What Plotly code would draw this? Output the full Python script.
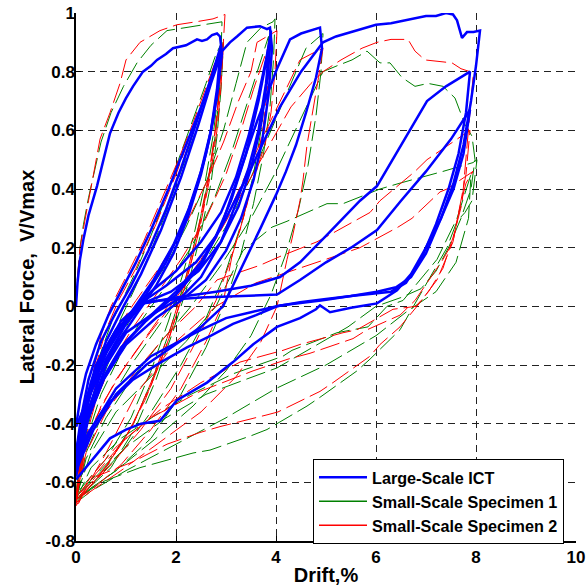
import plotly.graph_objects as go

# ---------------- Large-Scale ICT (drift %, V/Vmax) ----------------
ict_first = [(0, 0), (0.03, 0.08), (0.08, 0.16), (0.15, 0.23), (0.25, 0.31), (0.42, 0.41),
             (0.55, 0.5), (0.68, 0.59), (0.85, 0.66), (1.0, 0.71), (1.14, 0.75), (1.34, 0.80),
             (1.5, 0.82), (1.62, 0.84), (1.8, 0.86), (1.94, 0.88), (2.2, 0.89), (2.42, 0.91),
             (2.52, 0.905), (2.62, 0.91), (2.72, 0.925), (2.82, 0.93), (2.88, 0.92), (2.92, 0.86),
             (2.82, 0.72), (2.68, 0.58), (2.5, 0.45), (2.25, 0.31), (1.95, 0.18), (1.6, 0.07),
             (1.2, -0.03), (0.8, -0.13), (0.45, -0.24), (0.2, -0.33), (0.05, -0.39), (0, -0.41)]
ict_cyc3a = [(0, -0.41), (0.08, -0.32), (0.2, -0.23), (0.4, -0.13), (0.65, -0.03), (0.9, 0.05),
             (1.2, 0.15), (1.5, 0.26), (1.85, 0.4), (2.2, 0.55), (2.5, 0.68), (2.75, 0.8), (2.9, 0.88),
             (2.85, 0.76), (2.75, 0.64), (2.6, 0.52), (2.4, 0.4), (2.15, 0.28), (1.8, 0.15),
             (1.4, 0.04), (1.0, -0.05), (0.6, -0.16), (0.3, -0.29), (0.1, -0.42), (0, -0.5)]
ict_cyc3b = [(0, -0.5), (0.1, -0.38), (0.25, -0.25), (0.5, -0.12), (0.8, -0.02), (1.1, 0.07),
             (1.45, 0.19), (1.8, 0.33), (2.1, 0.47), (2.4, 0.62), (2.65, 0.75), (2.9, 0.89),
             (2.82, 0.74), (2.7, 0.6), (2.5, 0.46), (2.25, 0.33), (1.95, 0.21), (1.55, 0.09),
             (1.1, -0.02), (0.7, -0.12), (0.35, -0.26), (0.12, -0.4), (0, -0.55)]
ict_cyc4a = [(0, -0.55), (0.12, -0.4), (0.3, -0.26), (0.6, -0.12), (0.95, 0.0), (1.3, 0.11),
             (1.7, 0.26), (2.1, 0.44), (2.45, 0.62), (2.7, 0.76), (2.92, 0.87), (3.08, 0.9),
             (3.22, 0.92), (3.42, 0.95), (3.68, 0.955), (3.82, 0.945), (3.88, 0.95), (3.92, 0.88),
             (3.85, 0.72), (3.72, 0.56), (3.55, 0.43), (3.3, 0.3), (3.0, 0.19), (2.6, 0.09),
             (2.1, 0.02), (1.6, -0.04), (1.0, -0.13), (0.55, -0.25), (0.2, -0.4), (0, -0.56)]
ict_cyc4b = [(0, -0.56), (0.1, -0.42), (0.3, -0.28), (0.6, -0.15), (1.0, -0.04), (1.5, 0.05),
             (2.0, 0.12), (2.5, 0.22), (2.9, 0.32), (3.2, 0.44), (3.45, 0.58), (3.65, 0.72),
             (3.8, 0.84), (3.9, 0.93), (3.83, 0.78), (3.7, 0.62), (3.5, 0.47), (3.25, 0.34),
             (2.9, 0.22), (2.45, 0.12), (1.9, 0.05), (1.34, 0.01), (1.0, -0.06), (0.6, -0.18),
             (0.25, -0.35), (0, -0.5)]
ict_cyc4c = [(0, -0.5), (0.15, -0.36), (0.4, -0.22), (0.75, -0.1), (1.2, 0.0), (1.8, 0.07),
             (2.4, 0.15), (2.8, 0.24), (3.1, 0.36), (3.4, 0.52), (3.65, 0.7), (3.82, 0.85),
             (3.9, 0.94), (3.8, 0.76), (3.65, 0.6), (3.45, 0.47), (3.2, 0.35), (2.9, 0.22),
             (2.5, 0.1), (2.1, 0.03), (1.5, -0.03), (1.0, -0.09), (0.6, -0.2), (0.25, -0.38),
             (0, -0.58)]
ict_cyc5 = [(0, -0.58), (0.15, -0.42), (0.45, -0.27), (0.9, -0.14), (1.4, -0.05), (2.0, 0.04),
            (2.5, 0.14), (2.9, 0.27), (3.28, 0.46), (3.62, 0.63), (4.02, 0.81), (4.28, 0.91),
            (4.5, 0.93), (4.68, 0.94), (4.88, 0.95), (4.92, 0.88), (4.8, 0.78), (4.6, 0.66),
            (4.4, 0.55), (4.2, 0.46), (4.0, 0.38), (3.7, 0.27), (3.3, 0.13), (2.94, 0.0),
            (2.5, -0.07), (2.0, -0.13), (1.4, -0.2), (0.8, -0.3), (0.35, -0.42), (0, -0.56)]
ict_cyc8a = [(0, -0.56), (0.2, -0.4), (0.55, -0.25), (1.0, -0.12), (1.5, -0.03), (2.0, 0.05),
             (2.5, 0.15), (3.0, 0.3), (3.5, 0.47), (4.08, 0.68), (4.5, 0.8), (4.94, 0.9),
             (5.2, 0.92), (5.4, 0.93), (5.7, 0.945), (6.0, 0.96), (6.3, 0.965), (6.6, 0.975),
             (7.0, 0.99), (7.2, 0.99), (7.4, 1.0), (7.54, 0.995), (7.62, 0.975), (7.72, 0.915),
             (7.82, 0.935), (7.95, 0.935), (8.08, 0.94), (8.0, 0.82), (7.9, 0.7), (7.75, 0.55),
             (7.55, 0.42), (7.3, 0.3), (7.0, 0.18), (6.7, 0.1), (6.4, 0.065), (6.02, 0.05),
             (5.5, 0.035), (5.0, 0.025), (4.48, 0.014), (4.02, 0.0), (3.6, -0.03), (3.14, -0.06),
             (2.7, -0.1), (2.22, -0.14), (1.7, -0.19), (1.14, -0.25), (0.6, -0.34), (0.25, -0.43),
             (0, -0.52)]
ict_cyc8b = [(0, -0.52), (0.15, -0.35), (0.4, -0.2), (0.8, -0.08), (1.34, 0.01), (2.0, 0.03),
             (2.8, 0.05), (3.5, 0.07), (4.08, 0.1), (4.48, 0.15), (5.0, 0.24), (5.68, 0.36),
             (6.02, 0.41), (6.5, 0.55), (7.02, 0.7), (7.4, 0.75), (7.88, 0.8), (7.8, 0.66),
             (7.65, 0.52), (7.45, 0.4), (7.2, 0.28), (6.9, 0.16), (6.6, 0.08), (6.3, 0.05),
             (6.02, 0.045), (5.5, 0.035), (4.9, 0.02), (4.08, 0.003), (3.5, -0.02), (3.0, -0.04),
             (2.5, -0.08), (1.5, -0.17), (0.8, -0.28), (0.3, -0.42), (0, -0.55)]
ict_cyc8c = [(0, -0.55), (0.2, -0.35), (0.5, -0.17), (0.9, -0.05), (1.3, 0.01), (1.68, 0.02),
             (2.5, 0.03), (3.3, 0.035), (4.02, 0.04), (4.48, 0.09), (5.0, 0.15), (5.5, 0.2),
             (6.02, 0.26), (6.5, 0.36), (7.0, 0.46), (7.5, 0.57), (7.88, 0.67), (7.75, 0.52),
             (7.55, 0.4), (7.3, 0.3), (7.0, 0.2), (6.7, 0.11), (6.42, 0.055), (6.2, 0.03),
             (6.02, 0.01), (5.5, -0.005), (5.08, -0.02), (4.95, -0.005), (4.88, 0.003),
             (4.8, -0.01), (4.48, -0.04), (4.02, -0.07), (3.54, -0.13), (3.14, -0.19),
             (2.62, -0.26), (2.02, -0.32), (1.68, -0.39), (1.3, -0.4), (1.0, -0.42),
             (0.68, -0.45), (0.3, -0.53), (0, -0.59)]

# ---------------- Small-Scale Specimen 1 ----------------
sp1_first = [(0, 0), (0.03, 0.1), (0.08, 0.2), (0.15, 0.28), (0.25, 0.37), (0.35, 0.45),
             (0.5, 0.56), (0.7, 0.66), (0.95, 0.75), (1.22, 0.83), (1.5, 0.89), (1.82, 0.94),
             (2.2, 0.95), (2.6, 0.96), (2.92, 0.97), (2.9, 0.86), (2.84, 0.72), (2.74, 0.58),
             (2.58, 0.42), (2.38, 0.26), (2.12, 0.1), (1.85, -0.05), (1.5, -0.22), (1.1, -0.38),
             (0.6, -0.52), (0.2, -0.6), (0, -0.64)]
sp1_cyc3a = [(0, -0.64), (0.1, -0.48), (0.25, -0.32), (0.45, -0.18), (0.7, -0.06), (0.95, 0.03),
             (1.2, 0.12), (1.45, 0.22), (1.75, 0.35), (2.05, 0.5), (2.35, 0.64), (2.6, 0.76),
             (2.8, 0.86), (2.92, 0.9), (2.88, 0.76), (2.8, 0.6), (2.66, 0.44), (2.45, 0.27),
             (2.2, 0.1), (1.9, -0.07), (1.55, -0.24), (1.15, -0.4), (0.65, -0.53), (0.2, -0.61),
             (0, -0.65)]
sp1_cyc3b = [(0, -0.65), (0.15, -0.45), (0.35, -0.3), (0.6, -0.16), (0.9, -0.04), (1.2, 0.07),
             (1.5, 0.19), (1.8, 0.32), (2.1, 0.46), (2.4, 0.6), (2.65, 0.73), (2.85, 0.84),
             (2.95, 0.9), (2.9, 0.74), (2.82, 0.58), (2.7, 0.42), (2.5, 0.25), (2.25, 0.08),
             (1.95, -0.08), (1.6, -0.25), (1.2, -0.41), (0.7, -0.55), (0.25, -0.62), (0, -0.66)]
sp1_cyc4a = [(0, -0.66), (0.15, -0.47), (0.4, -0.3), (0.7, -0.17), (1.0, -0.07), (1.4, 0.04),
             (1.8, 0.14), (2.2, 0.27), (2.6, 0.42), (2.95, 0.6), (3.2, 0.76), (3.42, 0.9),
             (3.7, 0.95), (3.94, 0.97), (3.98, 0.98), (3.95, 0.84), (3.88, 0.68), (3.75, 0.52),
             (3.55, 0.35), (3.3, 0.18), (3.0, 0.02), (2.6, -0.14), (2.1, -0.3), (1.5, -0.45),
             (0.8, -0.56), (0.3, -0.62), (0, -0.66)]
sp1_cyc4b = [(0, -0.66), (0.2, -0.46), (0.5, -0.3), (0.9, -0.16), (1.3, -0.05), (1.8, 0.07),
             (2.3, 0.2), (2.75, 0.36), (3.1, 0.52), (3.4, 0.68), (3.65, 0.82), (3.85, 0.92),
             (3.82, 0.78), (3.72, 0.62), (3.55, 0.45), (3.34, 0.3), (3.0, 0.12), (2.6, -0.04),
             (2.1, -0.2), (1.5, -0.36), (0.9, -0.5), (0.35, -0.6), (0, -0.67)]
sp1_cyc5 = [(0, -0.67), (0.2, -0.5), (0.6, -0.34), (1.1, -0.2), (1.6, -0.08), (2.1, 0.04),
            (2.6, 0.16), (3.1, 0.3), (3.5, 0.44), (3.9, 0.6), (4.28, 0.75), (4.6, 0.88),
            (4.94, 0.93), (4.9, 0.8), (4.8, 0.65), (4.64, 0.48), (4.45, 0.33), (4.2, 0.18),
            (3.9, 0.04), (3.5, -0.1), (3.0, -0.22), (2.34, -0.34), (1.6, -0.45), (0.8, -0.56),
            (0.3, -0.62), (0, -0.66)]
sp1_cyc8a = [(0, -0.66), (0.2, -0.52), (0.6, -0.38), (1.1, -0.25), (1.7, -0.12), (2.3, 0.0),
             (2.9, 0.14), (3.5, 0.3), (4.0, 0.46), (4.5, 0.64), (4.94, 0.8), (5.22, 0.82),
             (5.52, 0.84), (5.82, 0.87), (6.08, 0.83), (6.28, 0.83), (6.52, 0.78), (6.78, 0.75),
             (7.04, 0.76), (7.34, 0.75), (7.58, 0.71), (7.78, 0.62), (7.92, 0.58), (7.98, 0.5),
             (7.9, 0.4), (7.7, 0.3), (7.45, 0.2), (7.2, 0.12), (6.9, 0.06), (6.5, 0.03),
             (6.0, 0.0), (5.44, -0.07), (4.52, -0.16), (4.02, -0.21), (3.38, -0.25),
             (2.6, -0.3), (1.8, -0.38), (1.0, -0.48), (0.4, -0.58), (0, -0.65)]
sp1_cyc8b = [(0, -0.65), (0.3, -0.5), (0.8, -0.36), (1.5, -0.24), (2.2, -0.12), (2.8, 0.0),
             (3.34, 0.19), (3.92, 0.27), (4.22, 0.29), (5.02, 0.35), (5.34, 0.35), (6.08, 0.4),
             (6.48, 0.42), (7.34, 0.46), (7.94, 0.49), (8.02, 0.5), (7.92, 0.36), (7.78, 0.32),
             (7.62, 0.29), (7.42, 0.2), (7.02, 0.08), (6.62, -0.04), (6.48, -0.08),
             (5.88, -0.18), (5.62, -0.22), (4.88, -0.31), (4.62, -0.34), (3.82, -0.42),
             (3.52, -0.44), (2.68, -0.49), (2.34, -0.5), (1.28, -0.55), (0.5, -0.6), (0, -0.66)]
sp1_cyc8c = [(0, -0.66), (0.3, -0.55), (0.9, -0.45), (1.6, -0.37), (2.3, -0.3), (3.14, -0.23),
             (4.14, -0.17), (4.32, -0.15), (5.22, -0.09), (5.84, -0.07), (6.22, 0.0),
             (6.54, 0.02), (7.22, 0.16), (7.62, 0.3), (7.9, 0.45), (7.85, 0.3), (7.6, 0.15),
             (7.2, 0.05), (6.6, -0.02), (6.0, -0.1), (5.0, -0.2), (4.0, -0.28), (3.0, -0.38),
             (2.0, -0.47), (1.0, -0.56), (0.3, -0.63), (0, -0.67)]

# ---------------- Small-Scale Specimen 2 ----------------
sp2_first = [(0, 0), (0.03, 0.1), (0.08, 0.2), (0.14, 0.26), (0.25, 0.36), (0.35, 0.45),
             (0.48, 0.57), (0.68, 0.66), (0.88, 0.76), (1.0, 0.84), (1.28, 0.9), (1.68, 0.94),
             (2.02, 0.96), (2.4, 0.97), (2.74, 0.98), (2.98, 0.995), (2.94, 0.88), (2.88, 0.76),
             (2.8, 0.62), (2.66, 0.45), (2.46, 0.28), (2.2, 0.1), (1.9, -0.07), (1.55, -0.24),
             (1.15, -0.4), (0.6, -0.55), (0.2, -0.62), (0, -0.66)]
sp2_cyc3a = [(0, -0.66), (0.08, -0.5), (0.2, -0.36), (0.35, -0.22), (0.5, -0.1), (0.7, 0.0),
             (1.0, 0.1), (1.35, 0.22), (1.7, 0.36), (2.05, 0.5), (2.35, 0.63), (2.6, 0.75),
             (2.8, 0.84), (2.92, 0.88), (2.86, 0.72), (2.76, 0.56), (2.6, 0.38), (2.38, 0.2),
             (2.1, 0.02), (1.78, -0.15), (1.38, -0.32), (0.95, -0.46), (0.45, -0.58), (0, -0.67)]
sp2_cyc3b = [(0, -0.67), (0.1, -0.5), (0.25, -0.34), (0.4, -0.2), (0.6, -0.08), (0.85, 0.02),
             (1.2, 0.13), (1.6, 0.28), (2.0, 0.45), (2.3, 0.59), (2.58, 0.72), (2.8, 0.82),
             (2.95, 0.9), (2.9, 0.75), (2.82, 0.6), (2.68, 0.44), (2.48, 0.27), (2.2, 0.08),
             (1.88, -0.1), (1.5, -0.27), (1.05, -0.43), (0.55, -0.56), (0.15, -0.64), (0, -0.68)]
sp2_cyc4a = [(0, -0.68), (0.12, -0.5), (0.3, -0.33), (0.5, -0.2), (0.8, -0.08), (1.2, 0.02),
             (1.7, 0.14), (2.2, 0.28), (2.6, 0.42), (2.95, 0.56), (3.25, 0.7), (3.5, 0.8),
             (3.62, 0.9), (3.82, 0.92), (4.02, 0.94), (3.98, 0.8), (3.9, 0.66), (3.78, 0.55),
             (3.68, 0.5), (3.48, 0.39), (3.28, 0.26), (3.14, 0.19), (2.94, 0.01), (2.6, -0.12),
             (2.1, -0.28), (1.5, -0.42), (0.9, -0.54), (0.35, -0.62), (0, -0.66)]
sp2_cyc4b = [(0, -0.66), (0.15, -0.48), (0.4, -0.32), (0.75, -0.18), (1.15, -0.07), (1.6, 0.04),
             (2.1, 0.16), (2.6, 0.3), (3.0, 0.45), (3.3, 0.6), (3.55, 0.74), (3.75, 0.84),
             (3.88, 0.9), (3.84, 0.76), (3.75, 0.62), (3.6, 0.47), (3.38, 0.32), (3.1, 0.16),
             (2.8, 0.02), (2.4, -0.12), (1.9, -0.28), (1.3, -0.42), (0.7, -0.54), (0.25, -0.62),
             (0, -0.66)]
sp2_cyc5 = [(0, -0.66), (0.15, -0.5), (0.5, -0.34), (1.0, -0.2), (1.5, -0.08), (2.0, 0.04),
            (2.5, 0.16), (3.0, 0.3), (3.4, 0.45), (3.8, 0.6), (4.2, 0.74), (4.48, 0.84),
            (4.7, 0.86), (4.94, 0.88), (4.85, 0.78), (4.74, 0.67), (4.62, 0.55), (4.54, 0.43),
            (4.48, 0.36), (4.32, 0.23), (4.22, 0.16), (4.02, 0.0), (3.7, -0.12), (3.2, -0.24),
            (2.5, -0.36), (1.7, -0.46), (0.9, -0.56), (0.3, -0.63), (0, -0.67)]
sp2_cyc8a = [(0, -0.67), (0.15, -0.52), (0.4, -0.38), (0.8, -0.25), (1.3, -0.13), (1.8, -0.02),
             (2.3, 0.1), (2.8, 0.23), (3.3, 0.38), (3.8, 0.53), (4.3, 0.68), (4.7, 0.76),
             (4.94, 0.8), (5.3, 0.84), (5.72, 0.88), (6.02, 0.9), (6.3, 0.91), (6.64, 0.91),
             (6.78, 0.87), (6.98, 0.84), (7.2, 0.835), (7.52, 0.83), (7.7, 0.81), (7.88, 0.8),
             (7.94, 0.78), (7.88, 0.66), (7.84, 0.57), (7.78, 0.45), (7.72, 0.35), (7.55, 0.24),
             (7.34, 0.13), (7.05, 0.05), (6.8, 0.0), (6.34, -0.01), (5.62, -0.08), (5.34, -0.09),
             (4.48, -0.13), (4.14, -0.15), (3.28, -0.19), (2.5, -0.26), (1.7, -0.35),
             (1.0, -0.45), (0.4, -0.57), (0, -0.65)]
sp2_cyc8b = [(0, -0.65), (0.2, -0.5), (0.6, -0.36), (1.2, -0.22), (1.8, -0.1), (2.4, 0.0),
             (2.82, 0.09), (3.68, 0.14), (4.08, 0.17), (4.82, 0.22), (5.14, 0.25), (5.88, 0.32),
             (6.08, 0.36), (6.78, 0.46), (7.02, 0.5), (7.72, 0.58), (7.88, 0.6), (7.8, 0.45),
             (7.68, 0.34), (7.54, 0.22), (7.34, 0.16), (6.78, 0.02), (6.48, -0.03),
             (5.82, -0.08), (5.54, -0.11), (4.68, -0.16), (4.24, -0.18), (3.54, -0.22),
             (2.48, -0.29), (1.5, -0.38), (0.8, -0.48), (0.3, -0.58), (0, -0.66)]
sp2_cyc8c = [(0, -0.66), (0.4, -0.58), (1.14, -0.53), (1.82, -0.47), (2.48, -0.43),
             (2.88, -0.41), (3.82, -0.37), (4.04, -0.36), (4.88, -0.29), (5.14, -0.26),
             (5.88, -0.17), (6.08, -0.13), (6.48, -0.07), (6.82, 0.0), (7.22, 0.09),
             (7.54, 0.22), (7.68, 0.34), (7.8, 0.42), (7.94, 0.46), (7.42, 0.4), (7.28, 0.39),
             (6.72, 0.3), (6.44, 0.27), (5.68, 0.2), (5.34, 0.18), (4.48, 0.13), (3.6, 0.08),
             (2.8, 0.0), (2.0, -0.12), (1.2, -0.3), (0.6, -0.5), (0.2, -0.62), (0, -0.69)]

ict_curves = [ict_first, ict_cyc3a, ict_cyc3b, ict_cyc4a, ict_cyc4b, ict_cyc4c, ict_cyc5,
              ict_cyc8a, ict_cyc8b, ict_cyc8c]
sp1_curves = [sp1_first, sp1_cyc3a, sp1_cyc3b, sp1_cyc4a, sp1_cyc4b, sp1_cyc5,
              sp1_cyc8a, sp1_cyc8b, sp1_cyc8c]
sp2_curves = [sp2_first, sp2_cyc3a, sp2_cyc3b, sp2_cyc4a, sp2_cyc4b, sp2_cyc5,
              sp2_cyc8a, sp2_cyc8b, sp2_cyc8c]

series = [
    ("Large-Scale ICT", ict_curves, "#0000ff", 2.5, "solid"),
    ("Small-Scale Specimen 1", sp1_curves, "#008000", 1.0, "20px,6px"),
    ("Small-Scale Specimen 2", sp2_curves, "#ff0000", 1.0, "20px,6px"),
]

fig = go.Figure()

# Draw the specimens first so the ICT loops sit on top of them
for name, curves, color, width, dash in series[1:] + series[:1]:
    for curve in curves:
        fig.add_trace(go.Scatter(
            x=[p[0] for p in curve], y=[p[1] for p in curve], mode="lines",
            line=dict(color=color, width=width, dash=dash),
            showlegend=False, hoverinfo="skip"))

# Legend entries with solid line samples
for name, curves, color, width, dash in series:
    fig.add_trace(go.Scatter(x=[None], y=[None], mode="lines", name=name,
                             line=dict(color=color, width=width + (0.5 if width < 2 else 0))))

font_family = "Liberation Sans, Arial, sans-serif"
axis_common = dict(
    automargin=False,
    showline=True, linecolor="black", linewidth=1.5,
    ticks="inside", ticklen=5, tickcolor="black", tickwidth=1,
    showgrid=True, gridcolor="#222222", gridwidth=1, griddash="7px,5px",
    zeroline=False,
    tickfont=dict(family=font_family, size=17, color="black", weight="bold"),
)

fig.update_layout(
    width=586, height=588,
    margin=dict(l=76, r=10, t=13, b=47, autoexpand=False),
    paper_bgcolor="white", plot_bgcolor="white",
    xaxis=dict(range=[0, 10], tickvals=[0, 2, 4, 6, 8, 10],
               title=dict(text="Drift,%", standoff=2,
                          font=dict(family=font_family, size=20, color="black", weight="bold")),
               **axis_common),
    yaxis=dict(range=[-0.8, 1], tickvals=[-0.8, -0.6, -0.4, -0.2, 0, 0.2, 0.4, 0.6, 0.8, 1],
               ticktext=["-0.8", "-0.6", "-0.4", "-0.2", "0", "0.2", "0.4", "0.6", "0.8", "1"],
               ticklabelstandoff=-4,
               title=dict(text="Lateral Force,  V/Vmax", standoff=6,
                          font=dict(family=font_family, size=20, color="black", weight="bold")),
               **axis_common),
    legend=dict(x=0.474, y=-0.006, xanchor="left", yanchor="bottom",
                bgcolor="white", bordercolor="black", borderwidth=1,
                font=dict(family=font_family, size=16.2, color="black", weight="bold"),
                itemwidth=48, tracegroupgap=0),
    showlegend=True,
)

fig.write_html("out.html")
